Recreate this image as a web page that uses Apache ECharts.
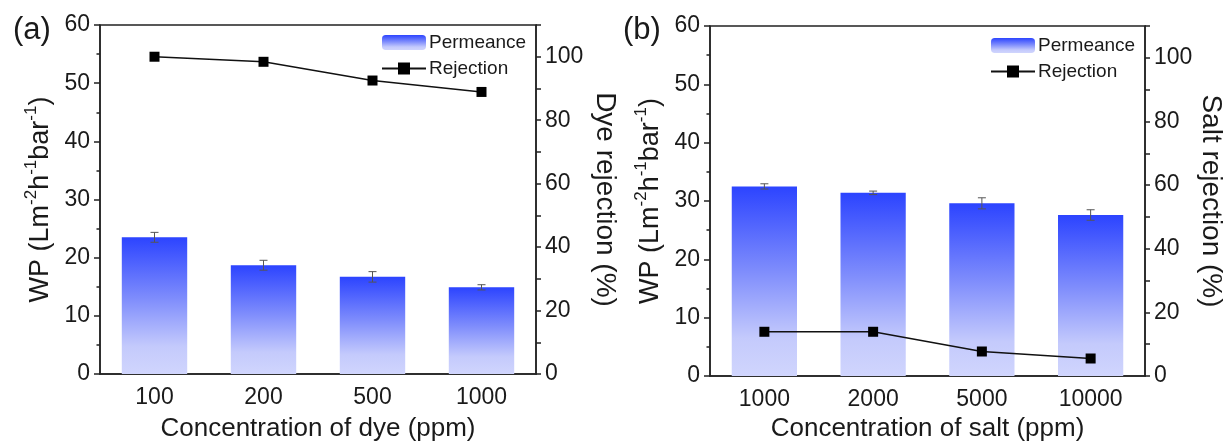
<!DOCTYPE html>
<html>
<head>
<meta charset="utf-8">
<script src="https://cdn.jsdelivr.net/npm/echarts@6/dist/echarts.min.js"></script>
<style>html,body{margin:0;padding:0;background:#fff;}#c{width:1224px;height:441px;}</style>
</head>
<body>
<div id="c"></div>
<script>
// ---- data ----
const dyeCats = ['100', '200', '500', '1000'];
const dyePermeance = [23.5, 18.7, 16.7, 14.9];
const dyePermErr = [0.85, 0.85, 0.9, 0.45];
const dyeRejection = [100.0, 98.4, 92.5, 88.9];

const saltCats = ['1000', '2000', '5000', '10000'];
const saltPermeance = [32.5, 31.4, 29.6, 27.6];
const saltPermErr = [0.45, 0.3, 0.95, 0.9];
const saltRejection = [13.9, 13.9, 7.7, 5.5];

const leftTicks = [0, 10, 20, 30, 40, 50, 60];
const rightTicks = [0, 20, 40, 60, 80, 100];

// ---- styling ----
const FONT = 'Liberation Sans, Arial, sans-serif';
const TXT = '#1a1a1a';
const AX = '#222';

function grad() {
  return new echarts.graphic.LinearGradient(0, 0, 0, 1, [
    {offset: 0, color: '#2c44ff'},
    {offset: 0.45, color: '#7f8dfc'},
    {offset: 0.8, color: '#c4cafc'},
    {offset: 1, color: '#d0d5fd'}
  ]);
}

const wpName = '{a|WP (Lm}{s|-2}{a|h}{s|-1}{a|bar}{s|-1}{a|)}';
const wpRich = {
  a: {fontSize: 27, fontFamily: FONT, color: TXT, lineHeight: 31, verticalAlign: 'bottom'},
  s: {fontSize: 17, fontFamily: FONT, color: TXT, lineHeight: 31, verticalAlign: 'top'}
};

function xAxis(gridIndex, cats, name, gap) {
  return {
    type: 'category', gridIndex, data: cats,
    name, nameLocation: 'middle', nameGap: gap,
    nameTextStyle: {fontSize: 26, fontFamily: FONT, color: TXT},
    axisLine: {lineStyle: {color: AX, width: 1.5}},
    axisTick: {alignWithLabel: true, length: 6, lineStyle: {color: AX, width: 1.5}},
    axisLabel: {fontSize: 23, fontFamily: FONT, color: TXT, margin: 12},
    splitLine: {show: false}
  };
}
function yLeft(gridIndex) {
  return {
    type: 'value', gridIndex, min: leftTicks[0], max: leftTicks[leftTicks.length - 1], interval: 10,
    name: wpName, nameLocation: 'middle', nameGap: 46, nameRotate: 90,
    nameTextStyle: {rich: wpRich},
    axisLine: {show: true, lineStyle: {color: AX, width: 1.5}},
    axisTick: {show: true, length: 6, lineStyle: {color: AX, width: 1.5}},
    minorTick: {show: true, splitNumber: 2, length: 3.5, lineStyle: {color: AX, width: 1.5}},
    axisLabel: {fontSize: 23, fontFamily: FONT, color: TXT, margin: 10},
    splitLine: {show: false}
  };
}
function yRight(gridIndex, name, gap) {
  return {
    type: 'value', gridIndex, position: 'right', min: 0, max: 110, interval: 10,
    name, nameLocation: 'middle', nameGap: gap, nameRotate: -90,
    nameTextStyle: {fontSize: 28, fontFamily: FONT, color: TXT},
    axisLine: {show: true, lineStyle: {color: AX, width: 1.5}},
    axisTick: {show: true, length: 5, lineStyle: {color: AX, width: 1.5}},
    axisLabel: {
      fontSize: 23, fontFamily: FONT, color: TXT, margin: 9,
      formatter: v => rightTicks.indexOf(v) >= 0 ? String(v) : ''
    },
    splitLine: {show: false}
  };
}

function errSeries(xi, yi, vals, errs) {
  return {
    type: 'custom', xAxisIndex: xi, yAxisIndex: yi, z: 5,
    data: vals.map((v, i) => [i, v - errs[i], v + errs[i]]),
    encode: {x: 0, y: [1, 2]},
    renderItem: function (params, api) {
      const lo = api.coord([api.value(0), api.value(1)]);
      const hi = api.coord([api.value(0), api.value(2)]);
      const w = 4;
      const st = {stroke: '#555', lineWidth: 1};
      return {type: 'group', children: [
        {type: 'line', shape: {x1: hi[0], y1: hi[1], x2: lo[0], y2: lo[1]}, style: st},
        {type: 'line', shape: {x1: hi[0] - w, y1: hi[1], x2: hi[0] + w, y2: hi[1]}, style: st},
        {type: 'line', shape: {x1: lo[0] - w, y1: lo[1], x2: lo[0] + w, y2: lo[1]}, style: st}
      ]};
    },
    silent: true
  };
}
function barSeries(xi, yi, vals) {
  return {
    name: 'Permeance', type: 'bar', xAxisIndex: xi, yAxisIndex: yi,
    data: vals, barWidth: '60%',
    itemStyle: {color: grad()}
  };
}
function lineSeries(xi, yi, vals) {
  return {
    name: 'Rejection', type: 'line', xAxisIndex: xi, yAxisIndex: yi,
    data: vals, symbol: 'rect', symbolSize: 10, z: 6,
    lineStyle: {color: '#111', width: 1.5},
    itemStyle: {color: '#000'}
  };
}
function legend(left, top) {
  return {
    left, top, orient: 'vertical', itemGap: 7, itemWidth: 44, itemHeight: 15,
    data: ['Permeance', 'Rejection'],
    textStyle: {fontSize: 19, fontFamily: FONT, color: TXT, padding: [0, 0, 0, -2]},
    selectedMode: false
  };
}

const chart = echarts.init(document.getElementById('c'), null, {renderer: 'canvas'});
chart.setOption({
  backgroundColor: '#fff',
  animation: false,
  title: [
    {text: '(a)', left: 8, top: 10, textStyle: {fontSize: 31, fontWeight: 'normal', fontFamily: FONT, color: TXT}},
    {text: '(b)', left: 618, top: 10, textStyle: {fontSize: 31, fontWeight: 'normal', fontFamily: FONT, color: TXT}}
  ],
  legend: [legend(376, 28), legend(985, 31)],
  grid: [
    {left: 100, right: 688, top: 25, bottom: 67, show: true, borderColor: AX, borderWidth: 1.5, backgroundColor: 'transparent', containLabel: false, outerBoundsMode: 'none'},
    {left: 710, right: 79, top: 26, bottom: 65, show: true, borderColor: AX, borderWidth: 1.5, backgroundColor: 'transparent', containLabel: false, outerBoundsMode: 'none'}
  ],
  xAxis: [
    xAxis(0, dyeCats, 'Concentration of dye (ppm)', 42),
    xAxis(1, saltCats, 'Concentration of salt (ppm)', 40)
  ],
  yAxis: [
    yLeft(0), yRight(0, 'Dye rejection (%)', 55),
    yLeft(1), yRight(1, 'Salt rejection (%)', 47)
  ],
  series: [
    barSeries(0, 0, dyePermeance),
    errSeries(0, 0, dyePermeance, dyePermErr),
    lineSeries(0, 1, dyeRejection),
    barSeries(1, 2, saltPermeance),
    errSeries(1, 2, saltPermeance, saltPermErr),
    lineSeries(1, 3, saltRejection)
  ]
});
</script>
</body>
</html>
